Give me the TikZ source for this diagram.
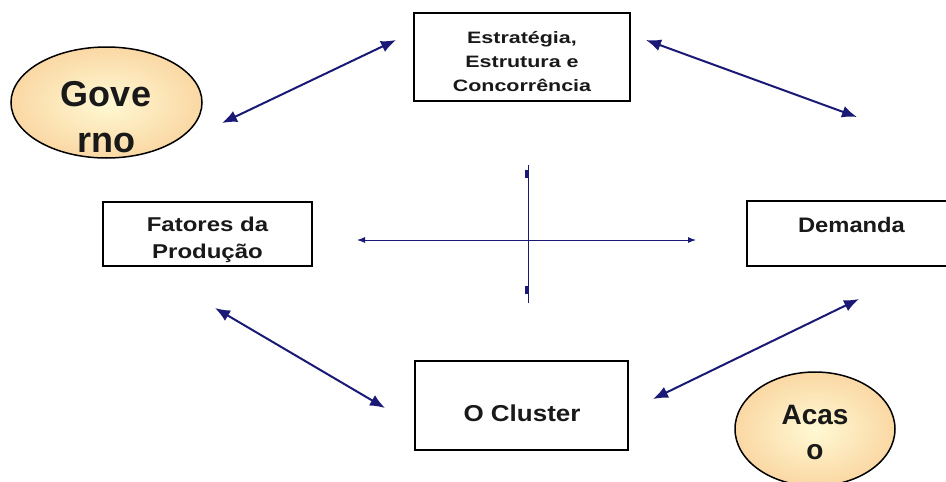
\documentclass[tikz,border=0pt]{standalone}
\usepackage{fontspec}
\setmainfont{Liberation Sans}
\newfontfamily\fstrat[FakeStretch=1.3]{Liberation Sans}
\newfontfamily\ffat[FakeStretch=1.2]{Liberation Sans}
\newfontfamily\fdem[FakeStretch=1.13]{Liberation Sans}
\usetikzlibrary{arrows.meta}
\definecolor{navy}{RGB}{26,26,118}
\definecolor{txtc}{RGB}{25,25,25}
\definecolor{ovin}{RGB}{255,249,212}
\definecolor{ovout}{RGB}{250,216,164}
\begin{document}
\begin{tikzpicture}[x=1pt,y=-1pt,
  box/.style={draw=black,line width=1.6pt,fill=white,rectangle,inner sep=0pt},
  txt/.style={text=txtc,inner sep=0pt,align=center},
  link/.style={draw=navy,line width=2pt,{Latex[length=15pt,width=12pt]}-{Latex[length=15pt,width=12pt]}},
  axis/.style={draw=navy,line width=1pt},
  oval/.style={draw=black,line width=1.5pt,inner color=ovin,outer color=ovout}]
\useasboundingbox (0,0) rectangle (946,482);
\fill[white] (0,0) rectangle (946,482);

% ovals
\shade[oval] (106.5,102.5) ellipse (95.5pt and 55.5pt);
\node[txt,font={\fontsize{36}{46}\selectfont\bfseries}] (gov) at (106,116.7) {Gove\\rno};
\shade[oval] (815,429) ellipse (80pt and 57pt);
\node[txt,font={\fontsize{28}{35}\selectfont\bfseries}] (aca) at (815,432.7) {Acas\\o};

% boxes
\node[box,minimum width=216pt,minimum height=88pt] (strat) at (522,57) {};
\node[txt,font={\fstrat\fontsize{16.5}{24.2}\selectfont\bfseries}] (stratT) at (522,61.4) {Estratégia,\\Estrutura e\\Concorrência};
\node[box,minimum width=209pt,minimum height=64pt] (fat) at (207.5,234) {};
\node[txt,font={\ffat\fontsize{20}{27}\selectfont\bfseries}] (fatT) at (207.5,240.3) {Fatores da\\Produção};
\node[box,minimum width=209pt,minimum height=65pt] (dem) at (851.5,233.5) {};
\node[txt,anchor=base,font={\fdem\fontsize{21}{25}\selectfont\bfseries}] (demT) at (851.5,232) {Demanda};
\node[box,minimum width=213pt,minimum height=89pt] (clu) at (521.5,405.5) {};
\node[txt,anchor=base,font={\fdem\fontsize{23}{27}\selectfont\bfseries}] (cluT) at (522,421.7) {O Cluster};

% connector ends
\coordinate (a1s) at (222,123); \coordinate (a1e) at (396,40);
\coordinate (a2s) at (646,40);  \coordinate (a2e) at (857,117);
\coordinate (a3s) at (215,308); \coordinate (a3e) at (385,408);
\coordinate (a4s) at (653,399); \coordinate (a4e) at (859,299);
\draw[link] (a1s) -- (a1e);
\draw[link] (a2s) -- (a2e);
\draw[link] (a3s) -- (a3e);
\draw[link] (a4s) -- (a4e);

% cross
\coordinate (hl) at (357,240); \coordinate (hr) at (696,240);
\coordinate (vt) at (528,165); \coordinate (vb) at (528,303);
\draw[axis,{Latex[length=8pt,width=6pt]}-{Latex[length=8pt,width=6pt]}] (hl) -- (hr);
\draw[axis] (vt) -- (vb);
\fill[navy] (525,170) rectangle (528,178);
\fill[navy] (525,286) rectangle (528,294);
\end{tikzpicture}
\end{document}
